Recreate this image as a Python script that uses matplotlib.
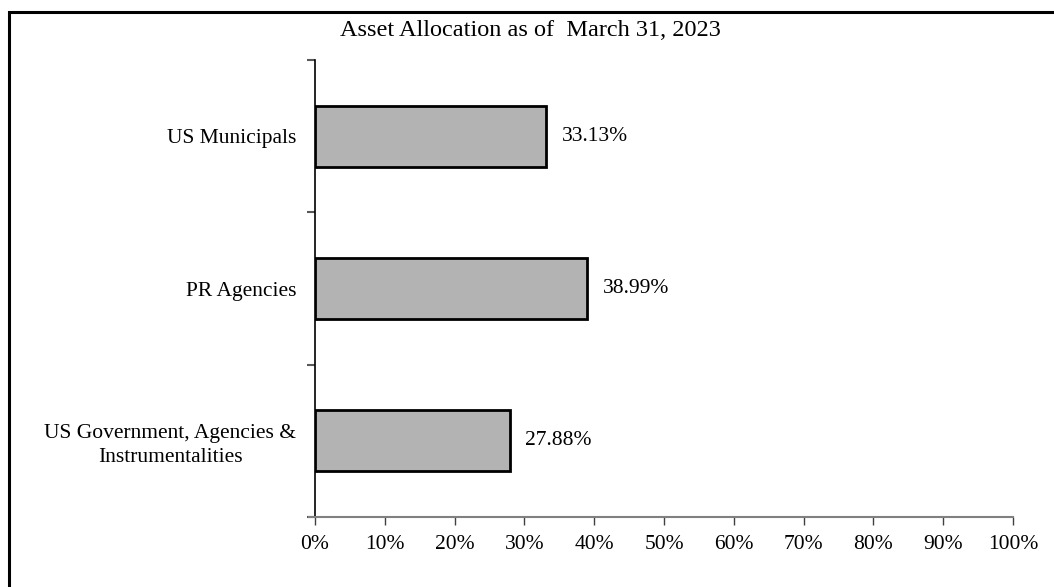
import matplotlib
matplotlib.use("Agg")
import matplotlib.pyplot as plt
from matplotlib.patches import Rectangle

categories = ["US Government, Agencies &\nInstrumentalities", "PR Agencies", "US Municipals"]
values = [27.88, 38.99, 33.13]
labels = ["27.88%", "38.99%", "33.13%"]
xticks = list(range(0, 101, 10))
xticklabels = [f"{t}%" for t in xticks]
title = "Asset Allocation as of  March 31, 2023"

plt.rcParams['font.family'] = ['Liberation Serif', 'DejaVu Serif']

W, H = 1054, 587
fig = plt.figure(figsize=(W / 100, H / 100), dpi=100)
ax = fig.add_axes([315 / W, 1 - 517 / H, (1013 - 315) / W, (517 - 60) / H])

ypos = list(range(len(categories)))
ax.barh(ypos, values, height=0.4, color="#b3b3b3", edgecolor="black", linewidth=2)
for y, v, l in zip(ypos, values, labels):
    ax.text(v + 2.2, y, l, va="center", ha="left", fontsize=15.5)

ax.set_xlim(0, 100)
ax.set_ylim(-0.5, 2.5)
ax.set_xticks(xticks)
ax.set_xticklabels(xticklabels, fontsize=15.5)
ax.set_yticks(ypos)
ax.set_yticklabels(categories, fontsize=15.5, multialignment="center", linespacing=1.35)
ax.tick_params(axis="y", length=0, pad=13.5)
ax.set_yticks([-0.5, 0.5, 1.5, 2.5], minor=True)
ax.tick_params(axis="y", which="minor", length=6, width=1.5, color="#595959")
ax.tick_params(axis="x", length=6, width=1, color="#404040", pad=7)

for s in ["top", "right"]:
    ax.spines[s].set_visible(False)
ax.spines["left"].set_color("black")
ax.spines["left"].set_linewidth(1.2)
ax.spines["bottom"].set_color("#808080")
ax.spines["bottom"].set_linewidth(1.5)
ax.spines["bottom"].set_bounds(-0.9, 100)

fig.text(530 / W, 1 - 31 / H, title, ha="center", va="center", fontsize=17.5)

fig.patches.append(Rectangle((9 / W, -0.2), 1.2, 1.2 - 11.5 / H, transform=fig.transFigure,
                             fill=False, edgecolor="black", linewidth=2.2))

fig.savefig("out.png", dpi=100)
